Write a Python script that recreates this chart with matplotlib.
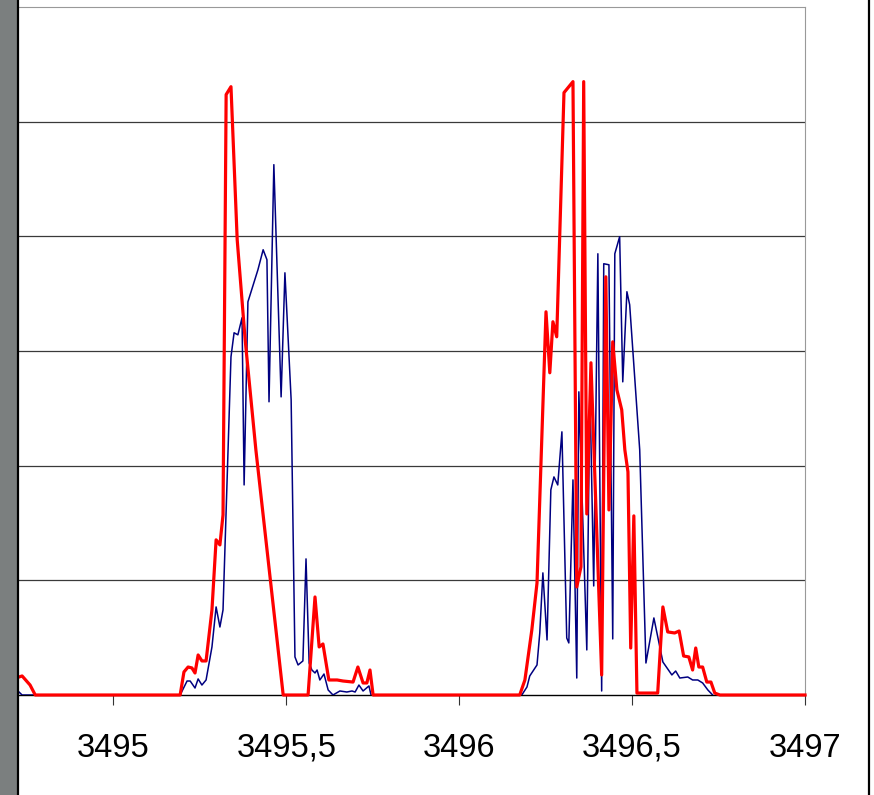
import matplotlib
matplotlib.use("Agg")
import matplotlib.pyplot as plt
from matplotlib.patches import Rectangle
from matplotlib.lines import Line2D
from matplotlib.ticker import FuncFormatter

# ---- data (wavelength, intensity in arbitrary units) ----
red_x = [3494.727, 3494.736, 3494.759, 3494.774, 3495.193, 3495.204, 3495.216, 3495.227,
         3495.236, 3495.245, 3495.256, 3495.268, 3495.285, 3495.297, 3495.308, 3495.317,
         3495.326, 3495.340, 3495.358, 3495.381, 3495.412, 3495.491, 3495.563, 3495.583,
         3495.595, 3495.606, 3495.623, 3495.647, 3495.664, 3495.693, 3495.707, 3495.722,
         3495.733, 3495.742, 3495.751, 3496.175, 3496.190, 3496.210, 3496.225, 3496.251,
         3496.262, 3496.271, 3496.282, 3496.303, 3496.329, 3496.340, 3496.352, 3496.360,
         3496.369, 3496.381, 3496.412, 3496.424, 3496.433, 3496.444, 3496.456, 3496.470,
         3496.479, 3496.488, 3496.496, 3496.505, 3496.514, 3496.574, 3496.589, 3496.603,
         3496.623, 3496.636, 3496.649, 3496.664, 3496.675, 3496.684, 3496.693, 3496.704,
         3496.716, 3496.728, 3496.739, 3496.754, 3497.000]
red_y = [0.157, 0.166, 0.087, 0.0, 0.0, 0.201, 0.244, 0.236,
         0.192, 0.349, 0.297, 0.297, 0.742, 1.353, 1.309, 1.571,
         5.236, 5.305, 3.970, 3.098, 2.138, 0.0, 0.0, 0.855,
         0.419, 0.445, 0.131, 0.131, 0.122, 0.113, 0.244, 0.105,
         0.105, 0.218, 0.0, 0.0, 0.131, 0.567, 0.977, 3.342,
         2.810, 3.255, 3.124, 5.253, 5.349, 0.942, 1.117, 5.349,
         1.579, 2.897, 0.175, 3.647, 1.614, 3.080, 2.661, 2.487,
         2.138, 1.946, 0.410, 1.562, 0.017, 0.017, 0.768, 0.550,
         0.541, 0.558, 0.340, 0.332, 0.218, 0.410, 0.244, 0.244,
         0.113, 0.113, 0.017, 0.0, 0.0]

blue_x = [3494.727, 3494.736, 3495.193, 3495.213, 3495.222, 3495.236, 3495.245, 3495.256,
          3495.268, 3495.285, 3495.297, 3495.308, 3495.317, 3495.340, 3495.349, 3495.360,
          3495.372, 3495.378, 3495.389, 3495.418, 3495.433, 3495.444, 3495.450, 3495.464,
          3495.485, 3495.496, 3495.514, 3495.525, 3495.534, 3495.548, 3495.557, 3495.566,
          3495.574, 3495.583, 3495.589, 3495.597, 3495.609, 3495.621, 3495.635, 3495.655,
          3495.675, 3495.690, 3495.699, 3495.710, 3495.722, 3495.739, 3495.745,
          3496.181, 3496.196, 3496.204, 3496.225, 3496.233, 3496.242, 3496.254, 3496.265,
          3496.274, 3496.285, 3496.297, 3496.311, 3496.317, 3496.329, 3496.340, 3496.346,
          3496.369, 3496.378, 3496.389, 3496.401, 3496.412, 3496.418, 3496.433, 3496.444,
          3496.450, 3496.464, 3496.473, 3496.485, 3496.493, 3496.522, 3496.540, 3496.563,
          3496.589, 3496.615, 3496.626, 3496.638, 3496.661, 3496.675, 3496.690, 3496.704,
          3496.719, 3496.733]
blue_y = [0.026, 0.0, 0.0, 0.122, 0.122, 0.061, 0.140, 0.087,
          0.131, 0.419, 0.768, 0.593, 0.742, 2.949, 3.159, 3.141,
          3.290, 1.832, 3.429, 3.709, 3.883, 3.796, 2.557, 4.625,
          2.600, 3.682, 2.574, 0.332, 0.262, 0.297, 1.187, 0.279,
          0.218, 0.192, 0.218, 0.131, 0.183, 0.044, 0.0, 0.035,
          0.026, 0.035, 0.026, 0.087, 0.035, 0.079, 0.0,
          0.0, 0.070, 0.166, 0.262, 0.541, 1.065, 0.480, 1.789,
          1.902, 1.832, 2.295, 0.497, 0.454, 1.876, 0.148, 2.644,
          0.393, 2.688, 0.951, 3.848, 0.035, 3.761, 3.752, 0.489,
          3.848, 3.997, 2.731, 3.517, 3.403, 2.138, 0.279, 0.672,
          0.288, 0.175, 0.209, 0.148, 0.157, 0.131, 0.131, 0.105,
          0.044, 0.0]

tick_values = [3495.0, 3495.5, 3496.0, 3496.5, 3497.0]
grid_levels = [1, 2, 3, 4, 5]

# ---- figure ----
W, H = 874, 795
fig = plt.figure(figsize=(W / 100, H / 100), dpi=100)
fig.patch.set_facecolor("white")

# left grey strip and dark edges of the frame
fig.add_artist(Rectangle((0, 0), 17 / W, 1, transform=fig.transFigure,
                         facecolor="#7b7f7f", edgecolor="none"))
fig.add_artist(Line2D([17.5 / W, 17.5 / W], [0, 1], transform=fig.transFigure,
                      color="black", lw=1.6))
fig.add_artist(Line2D([869 / W, 869 / W], [0, 1], transform=fig.transFigure,
                      color="black", lw=1.6))

ax = fig.add_axes([19 / W, (H - 695) / H, (805 - 19) / W, (695 - 7) / H])
ax.set_facecolor("white")

ax.plot(blue_x, blue_y, color="#000080", lw=1.1, zorder=3)
ax.plot(red_x, red_y, color="#ff0000", lw=2.3, zorder=4, clip_on=False)

ax.set_xlim(3494.727, 3497.0)
ax.set_ylim(0, 6)

for g in grid_levels:
    ax.axhline(g, color="#3a3a3a", lw=0.9, zorder=1)

ax.set_yticks([])
ax.set_xticks(tick_values)
ax.xaxis.set_major_formatter(FuncFormatter(lambda v, p: (f"{v:g}").replace(".", ",")))
ax.tick_params(axis="x", direction="out", length=7.2, width=0.8, color="#333333",
               pad=20, labelsize=23.5)
for lab in ax.get_xticklabels():
    lab.set_fontfamily("Liberation Sans")

ax.spines["left"].set_visible(False)
ax.spines["top"].set_color("#999999")
ax.spines["right"].set_color("#999999")
ax.spines["bottom"].set_color("black")
ax.spines["bottom"].set_linewidth(1.0)

fig.savefig("out.png", dpi=100)
